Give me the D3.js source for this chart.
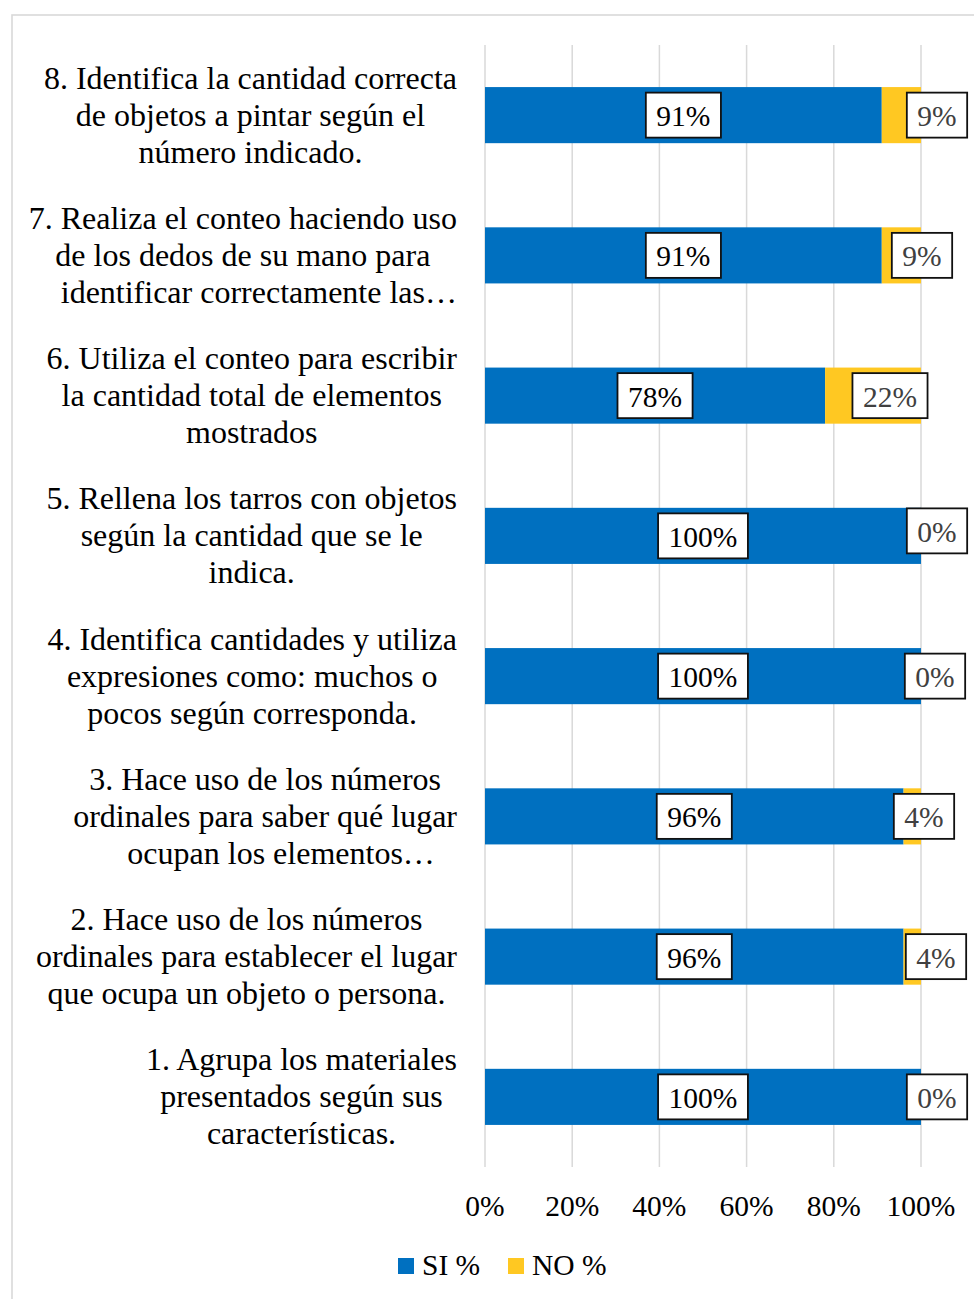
<!DOCTYPE html>
<html>
<head>
<meta charset="utf-8">
<script src="https://cdn.jsdelivr.net/npm/d3@7/dist/d3.min.js"></script>
<style>
  html, body { margin: 0; padding: 0; background: #fff; }
  svg { display: block; }
  text { font-family: "Liberation Serif", "Times New Roman", serif; }
</style>
</head>
<body>
<svg id="chart" width="974" height="1299"></svg>
<script>
// Survey items, listed from the bottom bar (1) to the top bar (8)
const categories = [
  "1. Agrupa los materiales\npresentados según sus\ncaracterísticas.",
  "2. Hace uso de los números\nordinales para establecer el lugar\nque ocupa un objeto o persona.",
  "3. Hace uso de los números\nordinales para saber qué lugar\nocupan los elementos…",
  "4. Identifica cantidades y utiliza\nexpresiones como: muchos o\npocos según corresponda.",
  "5. Rellena los tarros con objetos\nsegún la cantidad que se le\nindica.",
  "6. Utiliza el conteo para escribir\nla cantidad total de elementos\nmostrados",
  "7. Realiza el conteo haciendo uso\nde los dedos de su mano para\nidentificar correctamente las…",
  "8. Identifica la cantidad correcta\nde objetos a pintar según el\nnúmero indicado."
];
const siValues = [100, 96, 96, 100, 100, 78, 91, 91];
const noValues = [0, 4, 4, 0, 0, 22, 9, 9];
const tickValues = [0, 20, 40, 60, 80, 100];
const seriesNames = ["SI %", "NO %"];

const BLUE = "#0070C0", YELLOW = "#FFC822", GRID = "#d9d9d9";
const FONT = 29.5;       // ticks, data labels, legend
const CAT_FONT = 32;     // category labels

const svg = d3.select("#chart");
svg.append("rect").attr("width", 974).attr("height", 1299).attr("fill", "#fff");

// chart frame (extends past the right and bottom edges)
svg.append("rect")
  .attr("x", 12).attr("y", 15).attr("width", 1100).attr("height", 1400)
  .attr("fill", "none").attr("stroke", GRID).attr("stroke-width", 1.6);

const plot = { left: 485, right: 921, top: 45, bottom: 1167 };

const x = d3.scaleLinear().domain([0, 100]).range([plot.left, plot.right]);
const y = d3.scaleBand()
  .domain(d3.range(categories.length).reverse())
  .range([plot.top, plot.bottom])
  .paddingInner(0.6).paddingOuter(0.3);

// vertical gridlines
svg.append("g").selectAll("line").data(tickValues).join("line")
  .attr("x1", d => x(d)).attr("x2", d => x(d))
  .attr("y1", plot.top).attr("y2", plot.bottom)
  .attr("stroke", GRID).attr("stroke-width", 1.5);

// x axis tick labels
svg.append("g").selectAll("text").data(tickValues).join("text")
  .attr("x", d => x(d)).attr("y", 1216)
  .attr("text-anchor", "middle").attr("font-size", FONT).attr("fill", "#000")
  .text(d => d + "%");

const rows = categories.map((c, i) => ({ i, label: c, si: siValues[i], no: noValues[i] }));

// stacked bars
const bars = svg.append("g");
bars.selectAll("rect.si").data(rows).join("rect").attr("class", "si")
  .attr("x", x(0)).attr("y", d => y(d.i))
  .attr("width", d => x(d.si) - x(0)).attr("height", y.bandwidth())
  .attr("fill", BLUE);
bars.selectAll("rect.no").data(rows).join("rect").attr("class", "no")
  .attr("x", d => x(d.si)).attr("y", d => y(d.i))
  .attr("width", d => x(d.si + d.no) - x(d.si)).attr("height", y.bandwidth())
  .attr("fill", YELLOW);

// category labels: wrapped lines centred within a right-aligned block;
// a truncated line is centred on its text without the trailing ellipsis
const labelRight = 457, lineH = 37;
rows.forEach(d => {
  const lines = d.label.split("\n");
  const cy = y(d.i) + y.bandwidth() / 2;
  const g = svg.append("g");
  const items = lines.map((ln, k) => {
    const t = g.append("text")
      .attr("font-size", CAT_FONT).attr("fill", "#000")
      .attr("text-anchor", "start")
      .attr("y", cy + (k - (lines.length - 1) / 2) * lineH + 10.5)
      .text(ln);
    const full = t.node().getComputedTextLength();
    let w = full;
    if (ln.endsWith("…")) {
      t.text(ln.slice(0, -1));
      w = t.node().getComputedTextLength();
      t.text(ln);
    }
    return { t, w };
  });
  const maxW = d3.max(items, it => it.w);
  const center = labelRight - maxW / 2;
  items.forEach(it => it.t.attr("x", center - it.w / 2));
});

// boxed data labels
function boxLabel(cx, cy, str, color) {
  const g = svg.append("g");
  const r = g.append("rect");
  const t = g.append("text").attr("x", cx).attr("y", cy + 11)
    .attr("text-anchor", "middle").attr("font-size", FONT).attr("fill", color).text(str);
  const w = t.node().getComputedTextLength() + 21;
  r.attr("x", cx - w / 2).attr("y", cy - 22.5).attr("width", w).attr("height", 45)
    .attr("fill", "#fff").attr("stroke", "#111").attr("stroke-width", 1.8);
}

// label nudges for the NO % labels, relative to the 100% end of each bar
const noNudgeX = [16, 15, 3, 14, 16, -31, 1, 16];
const noNudgeY = [0, 0, 0, 0, -5, 0, 0, 0];

rows.forEach(d => {
  const cy = y(d.i) + y.bandwidth() / 2;
  boxLabel(x(d.si / 2), cy, d.si + "%", "#000");
  boxLabel(x(d.si + d.no) + noNudgeX[d.i], cy + noNudgeY[d.i], d.no + "%", "#404040");
});

// legend
const legend = svg.append("g");
const legendItems = [
  { name: seriesNames[0], color: BLUE, x: 398 },
  { name: seriesNames[1], color: YELLOW, x: 508 }
];
legendItems.forEach(it => {
  legend.append("rect").attr("x", it.x).attr("y", 1258).attr("width", 16).attr("height", 16)
    .attr("fill", it.color);
  legend.append("text").attr("x", it.x + 24).attr("y", 1275)
    .attr("font-size", FONT).attr("fill", "#000").text(it.name);
});
</script>
</body>
</html>
